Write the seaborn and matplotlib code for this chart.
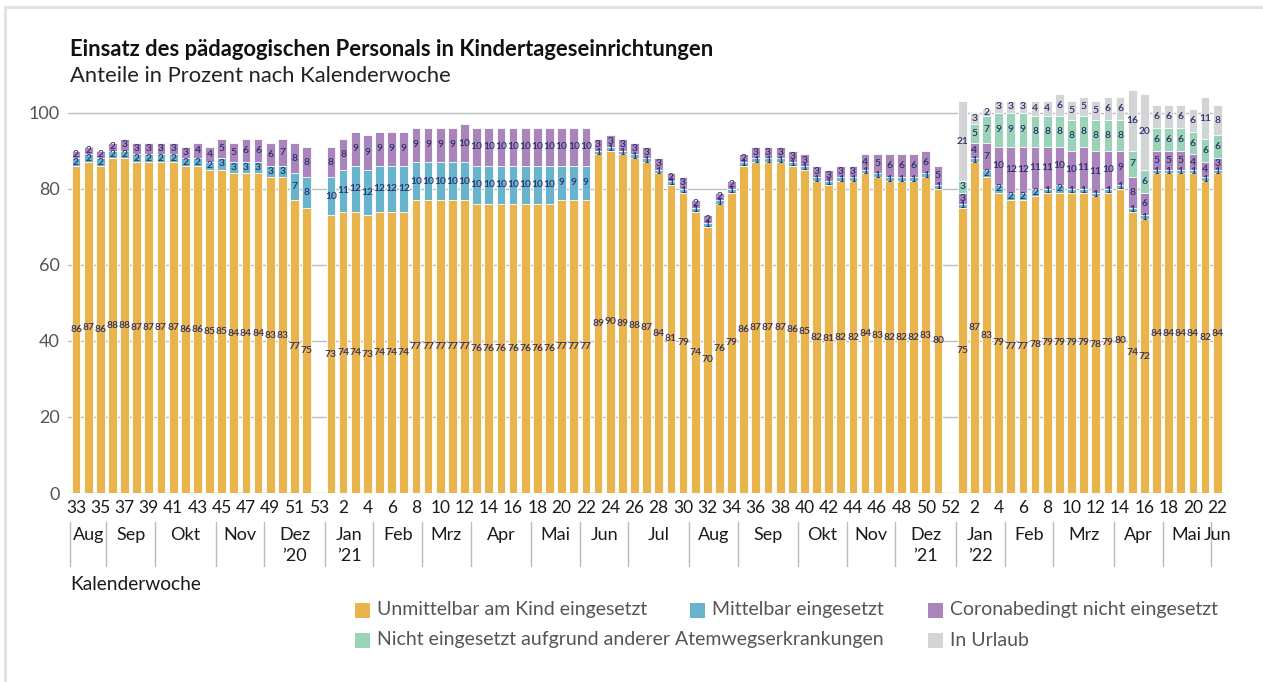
import datetime as dt

import matplotlib
matplotlib.use("Agg")
import matplotlib.pyplot as plt
import matplotlib.transforms as mtransforms
from matplotlib.lines import Line2D
from matplotlib.patches import Rectangle
import numpy as np
import pandas as pd
import seaborn as sns

# ---------------------------------------------------------------------------
# Data: share of pedagogical staff (percent) per calendar week
# ---------------------------------------------------------------------------
weeks_2020 = list(range(33, 53))   # KW 33-52 / 2020 (KW 53 without survey)
weeks_2021 = list(range(1, 52))    # KW 1-51 / 2021 (KW 52 without survey)
weeks_2022 = list(range(1, 23))    # KW 1-22 / 2022

unmittelbar_2020 = [86, 87, 86, 88, 88, 87, 87, 87, 87, 86, 86, 85, 85, 84, 84, 84, 83, 83, 77, 75]
mittelbar_2020 = [2, 2, 2, 2, 2, 2, 2, 2, 2, 2, 2, 2, 3, 3, 3, 3, 3, 3, 7, 8]
corona_2020 = [2, 2, 2, 2, 3, 3, 3, 3, 3, 3, 4, 4, 5, 5, 6, 6, 6, 7, 8, 8]

unmittelbar_2021 = [73, 74, 74, 73, 74, 74, 74, 77, 77, 77, 77, 77, 76, 76, 76, 76, 76, 76, 76, 77, 77, 77,
                    89, 90, 89, 88, 87, 84, 81, 79, 74, 70, 76, 79, 86, 87, 87, 87, 86, 85, 82, 81, 82, 82,
                    84, 83, 82, 82, 82, 83, 80]
mittelbar_2021 = [10, 11, 12, 12, 12, 12, 12, 10, 10, 10, 10, 10, 10, 10, 10, 10, 10, 10, 10, 9, 9, 9,
                  1, 1, 1, 1, 1, 1, 1, 1, 1, 1, 1, 1, 1, 1, 1, 1, 1, 1, 1, 1, 1, 1,
                  1, 1, 1, 1, 1, 1, 1]
corona_2021 = [8, 8, 9, 9, 9, 9, 9, 9, 9, 9, 9, 10, 10, 10, 10, 10, 10, 10, 10, 10, 10, 10,
               3, 3, 3, 3, 3, 3, 2, 3, 2, 2, 2, 2, 2, 3, 3, 3, 3, 3, 3, 3, 3, 3,
               4, 5, 6, 6, 6, 6, 5]

unmittelbar_2022 = [75, 87, 83, 79, 77, 77, 78, 79, 79, 79, 79, 78, 79, 80, 74, 72, 84, 84, 84, 84, 82, 84]
mittelbar_2022 = [1, 1, 2, 2, 2, 2, 2, 1, 2, 1, 1, 1, 1, 1, 1, 1, 1, 1, 1, 1, 1, 1]
corona_2022 = [3, 4, 7, 10, 12, 12, 11, 11, 10, 10, 11, 11, 10, 9, 8, 6, 5, 5, 5, 4, 4, 3]
atemweg_2022 = [3, 5, 7, 9, 9, 9, 8, 8, 8, 8, 8, 8, 8, 8, 7, 6, 6, 6, 6, 6, 6, 6]
urlaub_2022 = [21, 3, 2, 3, 3, 3, 4, 4, 6, 5, 5, 5, 6, 6, 16, 20, 6, 6, 6, 6, 11, 8]

series_names = [
    "Unmittelbar am Kind eingesetzt",
    "Mittelbar eingesetzt",
    "Coronabedingt nicht eingesetzt",
    "Nicht eingesetzt aufgrund anderer Atemwegserkrankungen",
    "In Urlaub",
]
series_colors = ["#E8B44B", "#68B4CD", "#AA85BC", "#9BD3B8", "#D3D4D6"]

month_names = {1: "Jan", 2: "Feb", 3: "Mrz", 4: "Apr", 5: "Mai", 6: "Jun",
               7: "Jul", 8: "Aug", 9: "Sep", 10: "Okt", 11: "Nov", 12: "Dez"}

# ---------------------------------------------------------------------------
# Category slots (every calendar week, including weeks without data)
# ---------------------------------------------------------------------------
slots = ([(2020, w) for w in range(33, 54)]
         + [(2021, w) for w in range(1, 53)]
         + [(2022, w) for w in range(1, 23)])
slot_keys = [f"{y}-{w:02d}" for y, w in slots]
slot_index = {k: i for i, k in enumerate(slot_keys)}

rows = []
for year, weeks, series in [
    (2020, weeks_2020, [unmittelbar_2020, mittelbar_2020, corona_2020, None, None]),
    (2021, weeks_2021, [unmittelbar_2021, mittelbar_2021, corona_2021, None, None]),
    (2022, weeks_2022, [unmittelbar_2022, mittelbar_2022, corona_2022, atemweg_2022, urlaub_2022]),
]:
    for j, w in enumerate(weeks):
        vals = [s[j] if s is not None else 0 for s in series]
        rows.append({"key": f"{year}-{w:02d}", **{n: v for n, v in zip(series_names, vals)}})
df = pd.DataFrame(rows)
cum = df[series_names].cumsum(axis=1)

# ---------------------------------------------------------------------------
# Figure
# ---------------------------------------------------------------------------
sns.set_theme(style="white")
plt.rcParams["font.family"] = ["Lato", "DejaVu Sans"]

W, H = 1263, 682
fig = plt.figure(figsize=(W / 100, H / 100), dpi=100)
fig.patch.set_facecolor("white")
ax = fig.add_axes([68 / W, 1 - 493 / H, (1223 - 68) / W, (493 - 86) / H])

# stacked bars: draw cumulative totals from the top layer down
for k in range(len(series_names) - 1, -1, -1):
    layer = pd.DataFrame({"key": df["key"], "value": cum[series_names[k]]})
    sns.barplot(data=layer, x="key", y="value", order=slot_keys, color=series_colors[k],
                saturation=1, width=0.72, edgecolor="white", linewidth=0.6,
                errorbar=None, ax=ax)

# value labels in the centre of each segment
label_color = "#2B2E6B"
for i, row in df.iterrows():
    x = slot_index[row["key"]]
    bottom = 0
    for n in series_names:
        v = row[n]
        if v > 0:
            ax.text(x, bottom + v / 2, f"{v:d}", ha="center", va="center",
                    fontsize=7.4, fontweight="semibold", color=label_color, zorder=5)
        bottom += v

# axes styling
ax.set_xlim(-0.66, 94.48)
ax.set_ylim(0, 107)
ax.set_yticks([0, 20, 40, 60, 80, 100])
ax.yaxis.grid(True, color="#BDBDBD", linewidth=1.0)
ax.xaxis.grid(False)
ax.set_axisbelow(True)
for s in ax.spines.values():
    s.set_visible(False)
ax.set_xlabel("")
ax.set_ylabel("")
tick_pos = list(range(0, len(slots), 2))
ax.set_xticks(tick_pos)
ax.set_xticklabels([str(slots[p][1]) for p in tick_pos])
ax.tick_params(axis="x", length=0, pad=5, labelsize=12.5, labelcolor="#1A1A1A")
ax.tick_params(axis="y", length=0, pad=6, labelsize=13, labelcolor="#555555")

# month / year rows below the week numbers (month of each week's Thursday)
trans = mtransforms.blended_transform_factory(ax.transData, fig.transFigure)
thursdays = [dt.date.fromisocalendar(y, w, 4) for y, w in slots]
runs = []
start = 0
for i in range(1, len(slots) + 1):
    if i == len(slots) or (thursdays[i].year, thursdays[i].month) != (thursdays[start].year, thursdays[start].month):
        runs.append((start, i - 1, thursdays[start]))
        start = i
for a, b, d in runs:
    ax.add_artist(Line2D([a - 0.5, a - 0.5], [1 - 522 / H, 1 - 566 / H], transform=trans,
                         color="#BBBBBB", linewidth=1.0, clip_on=False))
    ax.text((a + b) / 2, 1 - 535 / H, month_names[d.month], transform=trans,
            ha="center", va="center", fontsize=13, color="#1A1A1A")
    if d.month in (12, 1):
        ax.text((a + b) / 2, 1 - 556 / H, f"\u2019{d.year % 100:02d}", transform=trans,
                ha="center", va="center", fontsize=13, color="#1A1A1A")

# titles
fig.text(70 / W, 1 - 50 / H, "Einsatz des pädagogischen Personals in Kindertageseinrichtungen",
         ha="left", va="center", fontsize=15.8, fontweight="bold", color="#111111")
fig.text(70 / W, 1 - 76 / H, "Anteile in Prozent nach Kalenderwoche",
         ha="left", va="center", fontsize=15.8, color="#222222")
fig.text(70 / W, 1 - 585 / H, "Kalenderwoche", ha="left", va="center",
         fontsize=13.8, color="#1A1A1A")

# legend
legend_slots = [(355, 610), (690, 610), (928, 610), (355, 640), (928, 640)]
sq = 15
for (lx, ly), name, c in zip(legend_slots, series_names, series_colors):
    fig.add_artist(Rectangle((lx / W, 1 - (ly + sq / 2) / H), sq / W, sq / H,
                             transform=fig.transFigure, facecolor=c, edgecolor="none"))
    fig.text((lx + sq + 7) / W, 1 - ly / H, name, ha="left", va="center",
             fontsize=14, color="#555555")

# frame lines at top and left
fig.add_artist(Line2D([5 / W, 1], [1 - 7 / H, 1 - 7 / H], transform=fig.transFigure,
                      color="#E2E2E2", linewidth=2.2))
fig.add_artist(Line2D([5 / W, 5 / W], [0, 1 - 7 / H], transform=fig.transFigure,
                      color="#E2E2E2", linewidth=2.2))

fig.savefig("out.png", dpi=100, facecolor="white")
